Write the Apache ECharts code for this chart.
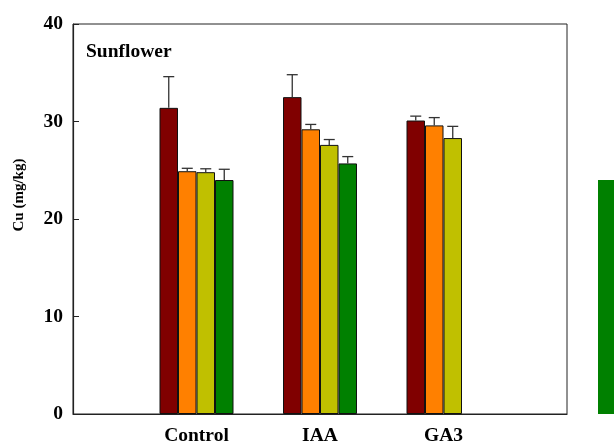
<!DOCTYPE html>
<html>
<head>
<meta charset="utf-8">
<script src="https://cdn.jsdelivr.net/npm/echarts@6/dist/echarts.min.js"></script>
<style>html,body{margin:0;padding:0;background:#fff;}#c{width:614px;height:447px;}</style>
</head>
<body>
<div id="c"></div>
<script>
// ---- data ----
const categories = ['', 'Control', 'IAA', 'GA3', ''];
const seriesNames = ['T1', 'T2', 'T3', 'T4'];
const values1 = [null, 31.4, 32.5, 30.1, null];
const values2 = [null, 24.9, 29.2, 29.6, null];
const values3 = [null, 24.8, 27.6, 28.3, null];
const values4 = [null, 24.0, 25.7, null, null];
const errors1 = [null, 3.2, 2.3, 0.45, null];
const errors2 = [null, 0.3, 0.5, 0.8, null];
const errors3 = [null, 0.35, 0.55, 1.2, null];
const errors4 = [null, 1.1, 0.7, null, null];
const strayCategory = ['GA3'];
const strayValue = [24.0];
const yTicks = { min: 0, max: 40, interval: 10 };
const titleText = 'Sunflower';
const yName = 'Cu (mg/kg)';

// ---- styles ----
const colors = ['#800000', '#FF8000', '#C0C000', '#008000'];
const FONT = '"Liberation Serif", "Times New Roman", serif';
const BAR_W = 18.5;

const allValues = [values1, values2, values3, values4];
const allErrors = [errors1, errors2, errors3, errors4];

function barSeries(k) {
  return {
    type: 'bar', name: seriesNames[k], xAxisIndex: 0, yAxisIndex: 0,
    data: allValues[k], barWidth: BAR_W, barGap: '0%',
    itemStyle: { color: colors[k], borderColor: '#111', borderWidth: 1 },
    z: 2
  };
}
function errSeries(k) {
  const data = [];
  allValues[k].forEach((v, i) => {
    if (v != null && allErrors[k][i] != null) data.push([i, v, allErrors[k][i]]);
  });
  return {
    type: 'custom', xAxisIndex: 0, yAxisIndex: 0, z: 3,
    data: data,
    encode: { x: 0, y: 1 },
    renderItem: function (params, api) {
      const x = api.value(0), v = api.value(1), e = api.value(2);
      const top = api.coord([x, v + e]);
      const base = api.coord([x, v]);
      const cx = top[0] + (k - 1.5) * BAR_W;
      const st = { stroke: '#333', lineWidth: 1.3 };
      return {
        type: 'group',
        children: [
          { type: 'line', shape: { x1: cx, y1: base[1], x2: cx, y2: top[1] }, style: st },
          { type: 'line', shape: { x1: cx - 5.5, y1: top[1], x2: cx + 5.5, y2: top[1] }, style: st }
        ]
      };
    }
  };
}

const chart = echarts.init(document.getElementById('c'), null, { renderer: 'canvas' });
const series = [];
for (let k = 0; k < 4; k++) series.push(barSeries(k));
for (let k = 0; k < 4; k++) series.push(errSeries(k));
series.push({
  type: 'bar', xAxisIndex: 1, yAxisIndex: 1, data: strayValue,
  barWidth: '100%', itemStyle: { color: colors[3] }
});

chart.setOption({
  animation: false,
  backgroundColor: '#fff',
  title: {
    text: titleText, left: 86, top: 42, padding: 0,
    textStyle: { fontFamily: FONT, fontWeight: 'bold', fontSize: 19.5, color: '#000' }
  },
  grid: [
    { left: 73, right: 47, top: 24, bottom: 33, show: true, borderColor: '#222', borderWidth: 1, backgroundColor: 'transparent' },
    { left: 598, width: 20, top: 24, bottom: 33 }
  ],
  xAxis: [
    {
      type: 'category', gridIndex: 0, data: categories, boundaryGap: false,
      axisLine: { lineStyle: { color: '#222', width: 1.2 } },
      axisTick: { show: false },
      axisLabel: { color: '#000', fontFamily: FONT, fontWeight: 'bold', fontSize: 19.5, margin: 12, interval: 0 },
      splitLine: { show: false }
    },
    { type: 'category', gridIndex: 1, data: strayCategory, show: false }
  ],
  yAxis: [
    {
      type: 'value', gridIndex: 0, min: yTicks.min, max: yTicks.max, interval: yTicks.interval,
      name: yName, nameLocation: 'middle', nameRotate: 90, nameGap: 46,
      nameTextStyle: { color: '#000', fontFamily: FONT, fontWeight: 'bold', fontSize: 15, padding: [0, 0, 0, 48] },
      axisLine: { show: true, lineStyle: { color: '#222', width: 1.2 } },
      axisTick: { show: true, inside: true, length: 6, lineStyle: { color: '#222' } },
      axisLabel: { color: '#000', fontFamily: FONT, fontWeight: 'bold', fontSize: 19.5, margin: 10 },
      splitLine: { show: false }
    },
    { type: 'value', gridIndex: 1, min: yTicks.min, max: yTicks.max, show: false }
  ],
  series: series
});
</script>
</body>
</html>
